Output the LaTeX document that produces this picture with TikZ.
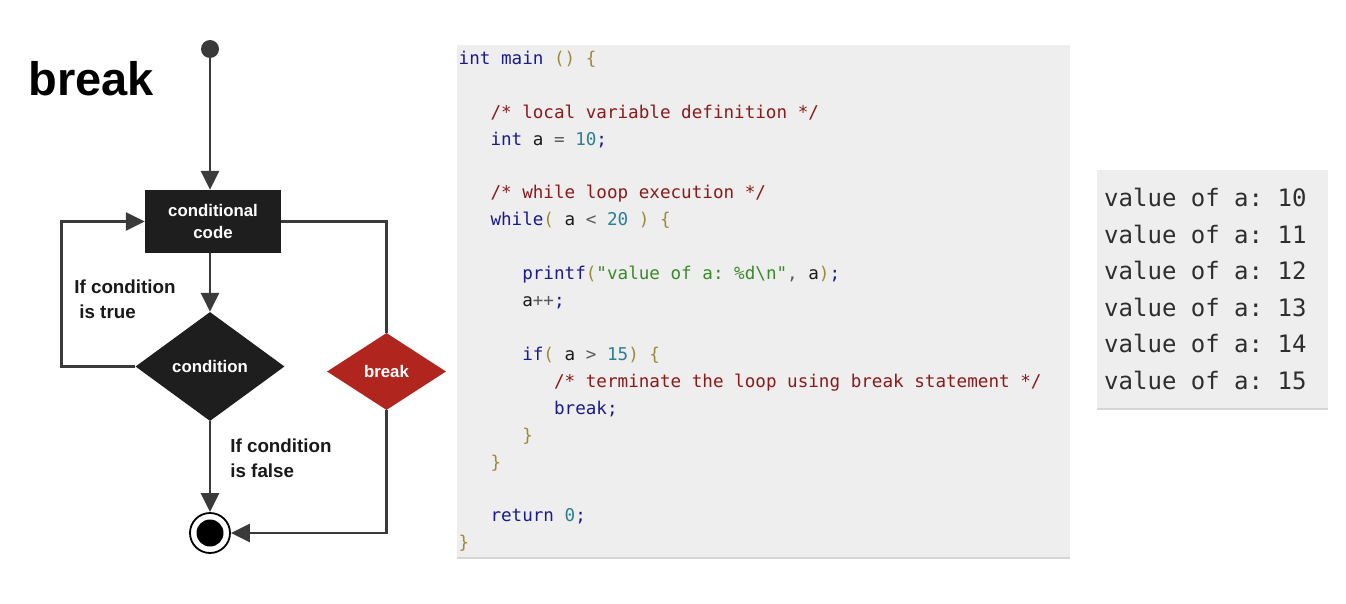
\documentclass[tikz,border=0pt]{standalone}
\usepackage{fontspec}
\setmainfont{Liberation Sans}
\setmonofont{DejaVu Sans Mono}
\usetikzlibrary{shapes.geometric,arrows.meta}

% flowchart colours
\definecolor{flowline}{HTML}{3A3A3A}
\definecolor{boxfill}{HTML}{1E1E1E}
\definecolor{breakred}{HTML}{B0261E}
% code panel colours
\definecolor{panel}{HTML}{EEEEEE}
\definecolor{panelrule}{HTML}{D6D6D6}
\definecolor{kwcol}{HTML}{1A1A8C}
\definecolor{cmcol}{HTML}{8B1A1A}
\definecolor{numcol}{HTML}{2B7F8F}
\definecolor{strcol}{HTML}{3A8A2A}
\definecolor{puncol}{HTML}{9A8A3A}
\definecolor{opcol}{HTML}{5A5A5A}
\definecolor{varcol}{HTML}{1A1A1A}
\definecolor{outcol}{HTML}{2E2E2E}

% syntax highlighting helpers
\newcommand\ckw[1]{\textcolor{kwcol}{#1}}
\newcommand\ccm[1]{\textcolor{cmcol}{#1}}
\newcommand\cnum[1]{\textcolor{numcol}{#1}}
\newcommand\cstr[1]{\textcolor{strcol}{#1}}
\newcommand\cpun[1]{\textcolor{puncol}{#1}}
\newcommand\cop[1]{\textcolor{opcol}{#1}}
\newcommand\cvar[1]{\textcolor{varcol}{#1}}

\tikzset{
  flow/.style={draw=flowline, line width=2.6pt},
  flowarrow/.style={flow, -{Triangle[length=19pt,width=18pt]}},
  blocktext/.style={text=white, font=\bfseries\fontsize{16.8}{22}\selectfont},
  lbl/.style={inner sep=0pt, align=left, text=black!90, font=\bfseries\fontsize{18.8}{25}\selectfont},
  codeline/.style={anchor=base west, inner sep=0pt, font=\ttfamily\fontsize{17.6}{27}\selectfont},
  outline/.style={anchor=base west, inner sep=0pt, text=outcol, font=\ttfamily\fontsize{24}{36}\selectfont},
}

\begin{document}
\begin{tikzpicture}[x=1pt, y=-1pt]
\useasboundingbox (0,0) rectangle (1346,604);

% ---------- flowchart ----------
\node[anchor=base west, inner sep=0pt, font=\bfseries\fontsize{47}{47}\selectfont] (title) at (28.5,96) {break};

\node[circle, fill=flowline, minimum size=18pt, inner sep=0pt] (start) at (210,49) {};
\node[rectangle, fill=boxfill, minimum width=136pt, minimum height=63pt, inner sep=0pt, align=center, blocktext] (code) at (213,221.5) {conditional\\code};
\node[diamond, fill=boxfill, minimum width=149pt, minimum height=109pt, inner sep=0pt, blocktext] (cond) at (210,366.5) {condition};
\node[diamond, fill=breakred, minimum width=119pt, minimum height=77pt, inner sep=0pt, blocktext] (brk) at (386.5,371.5) {break};
\node[circle, draw=black, line width=1.8pt, fill=white, minimum size=40pt, inner sep=0pt] (stop) at (210,533) {};
\node[circle, fill=black, minimum size=27pt, inner sep=0pt] (stopdot) at (stop) {};

\draw[flowarrow] (start) -- (start |- code.north);
\draw[flowarrow] (start |- code.south) -- (cond.north);
\draw[flowarrow] (cond.west) -- ++(-74,0) |- (code.west);
\draw[flow] (code.east) -| (brk.north);
\draw[flowarrow] (brk.south) |- (stop.east);
\draw[flowarrow] (cond.south) -- (stop.north);

\node[lbl] (truelbl) at (125,299.5) {If condition\\\hspace{5pt}is true};
\node[lbl] (falselbl) at (281,458.5) {If condition\\is false};

% ---------- source panel ----------
\fill[panel] (457,45) rectangle (1070,558);
\fill[panelrule] (457,556.5) rectangle (1070,558.5);

\node[codeline] (l0)  at (458.5,64.5)  {\ckw{int main} \cpun{()} \cpun{\{}};
\node[codeline] (l2)  at (490.3,118.3) {\ccm{/* local variable definition */}};
\node[codeline] (l3)  at (490.3,145.2) {\ckw{int} \cvar{a} \cop{=} \cnum{10}\ckw{;}};
\node[codeline] (l5)  at (490.3,199.0) {\ccm{/* while loop execution */}};
\node[codeline] (l6)  at (490.3,225.9) {\ckw{while}\cpun{(} \cvar{a} \cop{<} \cnum{20} \cpun{)} \cpun{\{}};
\node[codeline] (l8)  at (522.1,279.7) {\ckw{printf}\cpun{(}\cstr{"value of a: \%d\textbackslash n"}\cop{,} \cvar{a}\cpun{)}\ckw{;}};
\node[codeline] (l9)  at (522.1,306.6) {\cvar{a}\cop{++}\ckw{;}};
\node[codeline] (l11) at (522.1,360.4) {\ckw{if}\cpun{(} \cvar{a} \cop{>} \cnum{15}\cpun{)} \cpun{\{}};
\node[codeline] (l12) at (553.9,387.3) {\ccm{/* terminate the loop using break statement */}};
\node[codeline] (l13) at (553.9,414.2) {\ckw{break;}};
\node[codeline] (l14) at (522.1,441.1) {\cpun{\}}};
\node[codeline] (l15) at (490.3,468.0) {\cpun{\}}};
\node[codeline] (l17) at (490.3,521.8) {\ckw{return} \cnum{0}\ckw{;}};
\node[codeline] (l18) at (458.5,548.7) {\cpun{\}}};

% ---------- output panel ----------
\fill[panel] (1097,170) rectangle (1328,409);
\fill[panelrule] (1097,407.5) rectangle (1328,409.5);

\node[outline] (o1) at (1104,206.5) {value of a: 10};
\node[outline] (o2) at (1104,243.1) {value of a: 11};
\node[outline] (o3) at (1104,279.7) {value of a: 12};
\node[outline] (o4) at (1104,316.3) {value of a: 13};
\node[outline] (o5) at (1104,352.9) {value of a: 14};
\node[outline] (o6) at (1104,389.5) {value of a: 15};
\end{tikzpicture}
\end{document}
